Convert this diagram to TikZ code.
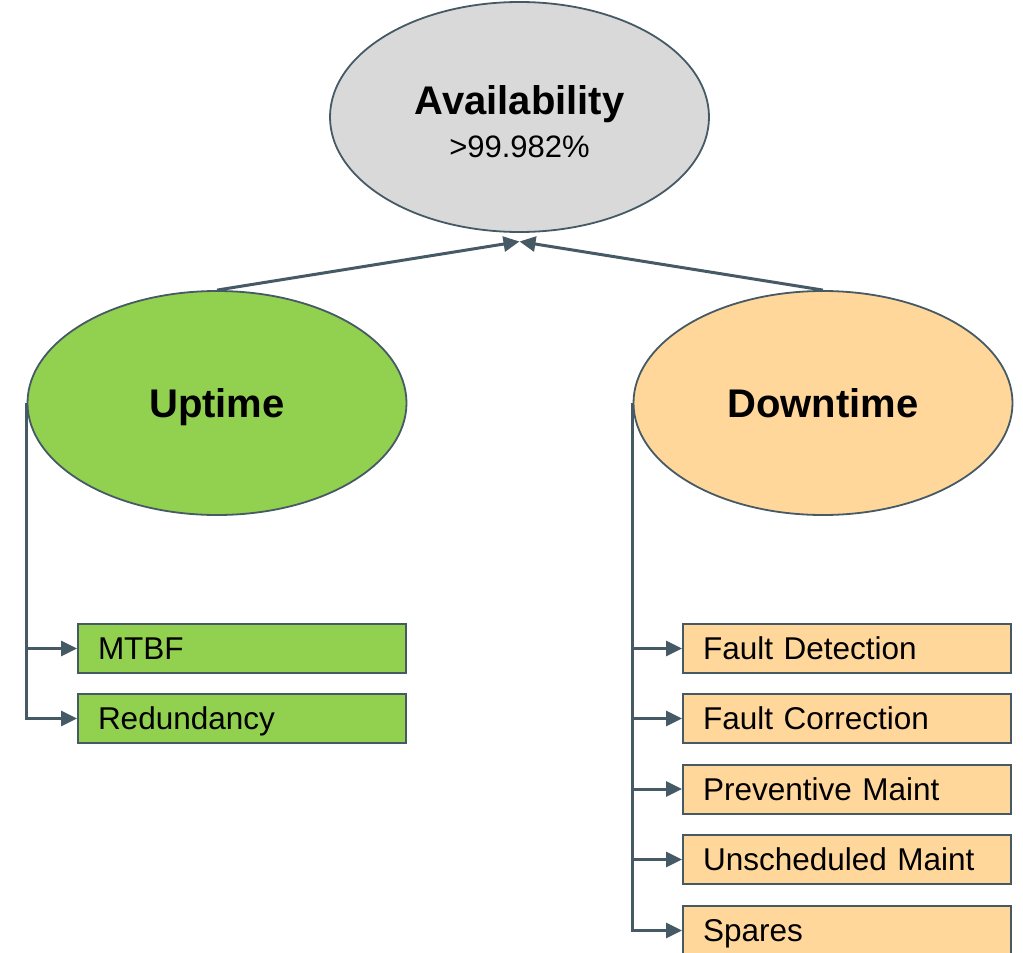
\documentclass[tikz,border=0pt]{standalone}
\usepackage{fontspec}
\setmainfont{Liberation Sans}
\usetikzlibrary{shapes.geometric,arrows.meta}
\definecolor{lineC}{HTML}{455A64}
\definecolor{greyF}{HTML}{D9D9D9}
\definecolor{greenF}{HTML}{92D050}
\definecolor{orangeF}{HTML}{FFD79B}
\tikzset{
  oval/.style={ellipse, draw=lineC, line width=1.8pt, minimum width=379pt, minimum height=224pt, inner sep=0pt,
     font=\fontsize{40}{46}\selectfont\bfseries, text height=28.6pt, text depth=0pt},
  itembox/.style={rectangle, draw=lineC, line width=2pt, minimum width=328pt, minimum height=49pt,
     text width=288pt, inner xsep=20pt, inner ysep=0pt, align=left,
     text height=22.6pt, text depth=0pt,
     font=\fontsize{31.5}{36}\selectfont},
  conn/.style={draw=lineC, line width=3pt, -{Triangle[length=16pt,width=15pt]}}
}
\begin{document}
\begin{tikzpicture}[x=1pt,y=-1pt]
\useasboundingbox (0,0) rectangle (1023,953);
\node[oval, fill=greyF, minimum height=230pt] (avail) at (519.5,117) {};
\node[align=center, inner sep=0pt, font=\fontsize{31}{43}\selectfont] (availtxt) at (519.5,121.5)
  {{\fontsize{40}{43}\selectfont\bfseries Availability}\\>99.982\%};
\node[oval, fill=greenF] (up) at (217,403) {Uptime};
\node[oval, fill=orangeF] (down) at (823,403) {Downtime};
\node[itembox, fill=greenF] (mtbf) at (242,648.5) {MTBF};
\node[itembox, fill=greenF] (red) at (242,718.5) {Redundancy};
\node[itembox, fill=orangeF] (fd) at (847,648.5) {Fault Detection};
\node[itembox, fill=orangeF] (fc) at (847,718.5) {Fault Correction};
\node[itembox, fill=orangeF] (pm) at (847,789) {Preventive Maint};
\node[itembox, fill=orangeF] (um) at (847,859.5) {Unscheduled Maint};
\node[itembox, fill=orangeF] (sp) at (847,930.5) {Spares};
\coordinate (tip) at (519.5,241.5);
\draw[conn] (up.north) -- (tip);
\draw[conn] (down.north) -- (tip);
\draw[conn] (up.west) |- (mtbf.west);
\draw[conn] (up.west) |- (red.west);
\draw[conn] (down.west) |- (fd.west);
\draw[conn] (down.west) |- (fc.west);
\draw[conn] (down.west) |- (pm.west);
\draw[conn] (down.west) |- (um.west);
\draw[conn] (down.west) |- (sp.west);
\end{tikzpicture}
\end{document}
